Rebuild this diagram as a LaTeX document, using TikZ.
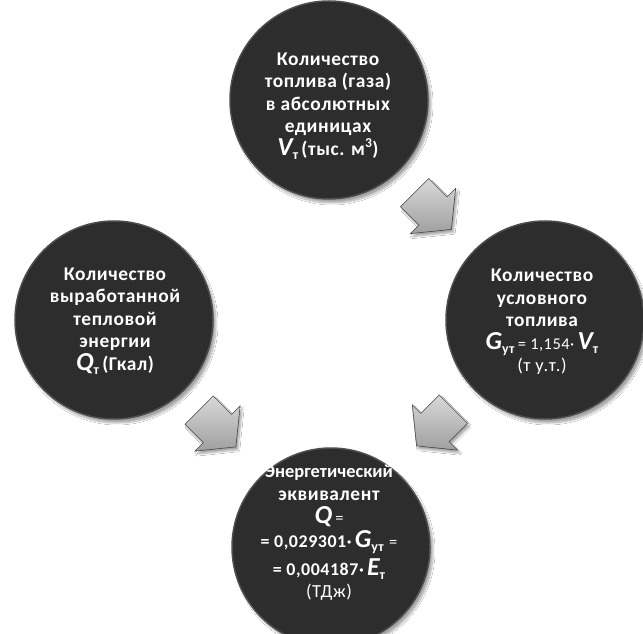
\documentclass[tikz,border=0pt]{standalone}
\usepackage{fontspec}
\setmainfont{Carlito}[LetterSpace=3]
\usetikzlibrary{calc,shadows.blur}
\newcommand\vbig[1]{{\fontsize{26}{22}\selectfont\bfseries\itshape #1}}
\newcommand\sbs[1]{\raisebox{-0.45ex}{\fontsize{14}{14}\selectfont\bfseries #1}}
\newcommand\sm[1]{{\fontsize{16.5}{16.5}\selectfont\mdseries #1}}
\newcommand\smr[1]{{\fontsize{18.5}{18.5}\selectfont\mdseries #1}}
\newcommand\smb[1]{{\fontsize{18}{18}\selectfont\bfseries #1}}
\newcommand\tight[1]{{\fontsize{18.5}{22.5}\selectfont\addfontfeature{LetterSpace=0}#1}}
\definecolor{discfill}{HTML}{2D2D2D}
\definecolor{discrim}{HTML}{4E4E4E}
\tikzset{
  disc/.style={circle, minimum size=198bp, inner sep=0pt, fill=discfill, draw=discrim, line width=1.5bp,
    blur shadow={shadow xshift=3bp, shadow yshift=-4bp, shadow blur steps=10, shadow opacity=35}},
  disctext/.style={text=white, align=center, font=\fontsize{19.5}{22.5}\selectfont\bfseries, inner sep=0pt},
  blockarrow/.style={top color=gray!30, bottom color=gray!75, shading angle=0, draw=gray!55!black, line width=0.6bp,
    blur shadow={shadow xshift=2bp, shadow yshift=-3bp, shadow blur steps=6, shadow opacity=35}}
}
\begin{document}
\begin{tikzpicture}[x=1bp,y=-1bp]
\useasboundingbox[fill=white] (0,0) rectangle (643,634);
\node[disc] (top) at (329,100) {};
\node[disc] (right) at (545,320) {};
\node[disc] (left) at (114,320) {};
\node[disc] (bottom) at (331,547) {};

\node[disctext] (toptext) at (328,106) {Количество\\топлива (газа)\\в абсолютных\\единицах\\\vbig{V}\sbs{т}\,(тыс. м\textsuperscript{3})};
\node[disctext] (righttext) at (542,322) {Количество\\условного\\топлива\\\vbig{G}\sbs{ут}\,\sm{= 1,154·}\,\vbig{V}\sbs{т}\\\smr{(т у.т.)}};
\node[disctext] (lefttext) at (115,321) {Количество\\выработанной\\тепловой\\энергии\\\vbig{Q}\sbs{т}\,(Гкал)};
\node[disctext] (bottomtext) at (329,533) {\tight{Энергетический}\\эквивалент\\[1bp]\vbig{Q}\,\sm{=}\\[1bp]\smb{= 0,029301·}\,\vbig{G}\sbs{ут}\;\sm{=}\\[4bp]\smb{= 0,004187·}\,\vbig{E}\sbs{т}\\\smr{(ТДж)}};

\path[blockarrow, shift={($(top)!0.5!(right)+(-4,1)$)}, rotate=-45]
  (-26,-20) -- (0,-20) -- (0,-32) -- (26,0) -- (0,32) -- (0,20) -- (-26,20) -- cycle;
\path[blockarrow, shift={($(right)!0.5!(bottom)+(-3,-6)$)}, rotate=-135]
  (-26,-20) -- (0,-20) -- (0,-32) -- (26,0) -- (0,32) -- (0,20) -- (-26,20) -- cycle;
\path[blockarrow, shift={($(left)!0.5!(bottom)+(-5,-5)$)}, rotate=-45]
  (-26,-20) -- (0,-20) -- (0,-32) -- (26,0) -- (0,32) -- (0,20) -- (-26,20) -- cycle;
\end{tikzpicture}
\end{document}
